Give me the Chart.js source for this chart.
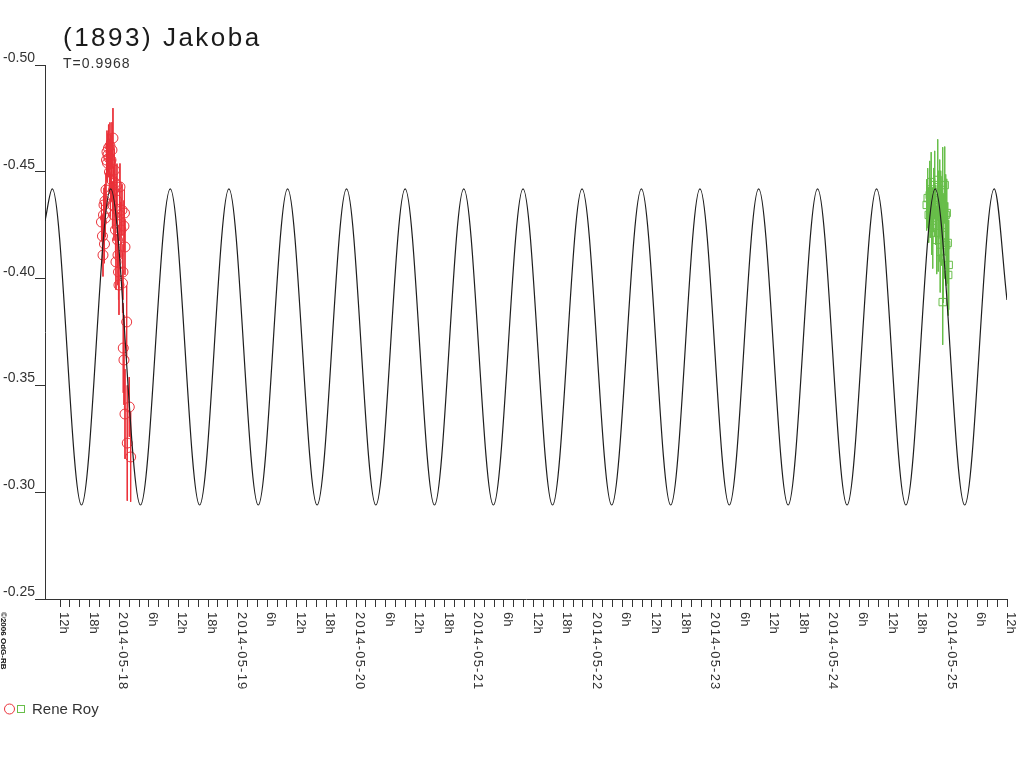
<!DOCTYPE html>
<html>
<head>
<meta charset="utf-8">
<title>(1893) Jakoba</title>
<script src="https://cdn.jsdelivr.net/npm/chart.js@4.4.1/dist/chart.umd.min.js"></script>
<style>
  html, body { margin: 0; padding: 0; background: #fff; }
  #wrap { width: 1024px; height: 768px; }
</style>
</head>
<body>
<div id="wrap"><canvas id="lc" width="1024" height="768"></canvas></div>
<script>
// hours counted from 2014-05-18 00:00
const dayLabels = ['2014-05-17', '2014-05-18', '2014-05-19', '2014-05-20', '2014-05-21',
  '2014-05-22', '2014-05-23', '2014-05-24', '2014-05-25'];
const hourLabels = { 6: '6h', 12: '12h', 18: '18h' };
const yTickValues = [-0.50, -0.45, -0.40, -0.35, -0.30, -0.25];
const yTickLabels = ['-0.50', '-0.45', '-0.40', '-0.35', '-0.30', '-0.25'];

// fitted curve: start, peaks/troughs, end
const curveHours = [-15.06, -13.58, -7.66, -1.74, 4.30, 10.34, 16.29, 22.23, 28.18, 34.13,
  40.11, 46.08, 52.02, 57.96, 63.91, 69.85, 75.86, 81.87, 87.85, 93.83, 99.85, 105.87,
  111.81, 117.74, 123.69, 129.64, 135.62, 141.59, 147.57, 153.55, 159.50, 165.44, 171.42,
  177.40, 180.00];
const curveMags = [-0.427, -0.442, -0.294, -0.442, -0.294, -0.442, -0.294, -0.442, -0.294,
  -0.442, -0.294, -0.442, -0.294, -0.442, -0.294, -0.442, -0.294, -0.442, -0.294, -0.442,
  -0.294, -0.442, -0.294, -0.442, -0.294, -0.442, -0.294, -0.442, -0.294, -0.442, -0.294,
  -0.442, -0.294, -0.442, -0.390];

// session 1 (red circles)
const redHours = [-3.61, -3.41, -3.30, -3.20, -3.10, -3.00, -2.90, -2.80, -2.70, -2.59,
  -2.49, -2.39, -2.29, -2.19, -2.09, -1.99, -1.89, -1.78, -1.68, -1.58, -1.48, -1.38,
  -1.28, -1.18, -1.07, -0.97, -0.87, -0.77, -0.67, -0.57, -0.47, -0.36, -0.26, -0.16,
  -0.06, 0.04, 0.14, 0.34, 0.55, 0.65, 0.75, 0.95, 1.05, 1.16, 1.50, 0.81, 0.95, 2.03,
  1.16, 1.62, 2.31];
const redMags = [-0.4265, -0.4199, -0.4110, -0.4298, -0.4345, -0.4162, -0.4363, -0.4284,
  -0.4415, -0.4555, -0.4593, -0.4541, -0.4579, -0.4611, -0.4565, -0.4499, -0.4621, -0.4391,
  -0.4555, -0.4462, -0.4602, -0.4345, -0.4658, -0.4415, -0.4298, -0.4508, -0.4448, -0.4228,
  -0.4078, -0.4368, -0.4438, -0.4181, -0.4110, -0.4031, -0.3970, -0.4298, -0.4429, -0.4228,
  -0.4321, -0.3979, -0.4031, -0.4246, -0.4307, -0.4148, -0.3797, -0.3675, -0.3619, -0.3399,
  -0.3366, -0.3230, -0.3165];
const redErrs = [0.009, 0.010, 0.010, 0.009, 0.008, 0.009, 0.008, 0.009, 0.008, 0.009,
  0.010, 0.009, 0.010, 0.011, 0.009, 0.010, 0.011, 0.010, 0.012, 0.010, 0.013, 0.011,
  0.014, 0.011, 0.012, 0.010, 0.011, 0.012, 0.013, 0.011, 0.010, 0.013, 0.014, 0.013,
  0.014, 0.012, 0.011, 0.013, 0.012, 0.014, 0.013, 0.012, 0.011, 0.013, 0.017, 0.021,
  0.021, 0.014, 0.021, 0.027, 0.021];

// session 2 (green squares)
const greenHours = [163.72, 163.92, 164.13, 164.33, 164.43, 164.63, 164.74, 164.94, 165.14,
  165.34, 165.55, 165.75, 165.95, 166.05, 166.15, 166.36, 166.46, 166.56, 166.76, 166.96,
  167.07, 167.17, 167.37, 167.57, 167.67, 167.78, 167.98, 168.08, 168.18, 166.96];
const greenMags = [-0.4345, -0.4377, -0.4298, -0.4391, -0.4331, -0.4452, -0.4251, -0.4237,
  -0.4368, -0.4438, -0.4298, -0.4181, -0.4462, -0.4213, -0.4345, -0.4377, -0.4125, -0.4345,
  -0.4251, -0.4415, -0.4096, -0.4204, -0.4438, -0.4298, -0.4157, -0.4307, -0.4167, -0.4017,
  -0.4064, -0.3890];
const greenErrs = [0.012, 0.014, 0.013, 0.016, 0.014, 0.014, 0.014, 0.019, 0.015, 0.016,
  0.014, 0.016, 0.019, 0.018, 0.016, 0.018, 0.019, 0.016, 0.019, 0.020, 0.021, 0.019,
  0.018, 0.019, 0.019, 0.016, 0.019, 0.019, 0.021, 0.020];

const RED = 'rgb(234, 50, 58)';
const GREEN = 'rgb(104, 190, 74)';
const INK = '#333';

const toPoints = (xs, ys) => xs.map((v, i) => ({ x: v, y: ys[i] }));

// each error bar is a short segment; a null point breaks the line between bars
const toBars = (xs, ys, es) => xs.flatMap((v, i) => [
  { x: v, y: ys[i] - es[i] }, { x: v, y: ys[i] + es[i] }, { x: v, y: null }
]);

// title, tick labels, legend, credit
const texts = {
  id: 'texts',
  afterDraw(chart) {
    const { ctx, scales: { x, y } } = chart;
    ctx.save();
    ctx.fillStyle = '#1a1a1a';
    ctx.textBaseline = 'alphabetic';

    ctx.font = '26px "Liberation Sans", Arial, sans-serif';
    ctx.letterSpacing = '2.5px';
    ctx.fillText('(1893) Jakoba', 63, 46);
    ctx.font = '14px "Liberation Sans", Arial, sans-serif';
    ctx.letterSpacing = '1px';
    ctx.fillStyle = INK;
    ctx.fillText('T=0.9968', 63, 68);

    // y labels sit above their tick marks
    ctx.letterSpacing = '0px';
    ctx.textAlign = 'right';
    yTickValues.forEach((v, i) => {
      ctx.fillText(yTickLabels[i], 35, y.getPixelForValue(v) - 3);
    });

    // x labels, rotated clockwise
    ctx.textAlign = 'left';
    x.ticks.forEach(t => {
      const h = Math.round(t.value);
      const hod = ((h % 24) + 24) % 24;
      let label = null;
      if (hod === 0) label = dayLabels[Math.floor(h / 24) + 1];
      else if (hourLabels[hod]) label = hourLabels[hod];
      if (!label) return;
      const px = Math.round(x.getPixelForValue(h));
      ctx.save();
      ctx.translate(px, 612);
      ctx.rotate(Math.PI / 2);
      ctx.font = '13px "Liberation Sans", Arial, sans-serif';
      ctx.letterSpacing = hod === 0 ? '1.2px' : '0px';
      ctx.fillText(label, 0, 0);
      ctx.restore();
    });

    // credit
    ctx.save();
    ctx.translate(1, 612);
    ctx.rotate(Math.PI / 2);
    ctx.font = 'bold 8px "Liberation Sans", Arial, sans-serif';
    ctx.fillStyle = '#111';
    ctx.fillText('\u00a92006 OdG-RB', 0, 0);
    ctx.restore();

    // legend
    ctx.lineWidth = 1;
    ctx.strokeStyle = RED;
    ctx.beginPath();
    ctx.arc(9.5, 709, 5, 0, Math.PI * 2);
    ctx.stroke();
    ctx.strokeStyle = GREEN;
    ctx.strokeRect(17.5, 705.5, 7, 7);
    ctx.font = '15px "Liberation Sans", Arial, sans-serif';
    ctx.fillStyle = INK;
    ctx.fillText('Rene Roy', 32, 714);
    ctx.restore();
  }
};

new Chart(document.getElementById('lc'), {
  type: 'scatter',
  data: {
    datasets: [
      {
        label: 'fit',
        data: toPoints(curveHours, curveMags),
        showLine: true,
        borderColor: '#1e1e1e',
        borderWidth: 1.2,
        pointRadius: 0,
        cubicInterpolationMode: 'monotone',
        fill: false
      },
      {
        label: 'Rene Roy 1',
        data: toPoints(redHours, redMags),
        borderColor: RED,
        backgroundColor: 'rgba(0,0,0,0)',
        pointStyle: 'circle',
        pointRadius: 5,
        pointBorderWidth: 1
      },
      {
        label: 'Rene Roy 2',
        data: toPoints(greenHours, greenMags),
        borderColor: GREEN,
        backgroundColor: 'rgba(0,0,0,0)',
        pointStyle: 'rect',
        pointRadius: 5.2,
        pointBorderWidth: 1
      },
      {
        label: 'err 1',
        data: toBars(redHours, redMags, redErrs),
        showLine: true,
        spanGaps: false,
        borderColor: RED,
        borderWidth: 1,
        pointRadius: 0
      },
      {
        label: 'err 2',
        data: toBars(greenHours, greenMags, greenErrs),
        showLine: true,
        spanGaps: false,
        borderColor: GREEN,
        borderWidth: 1,
        pointRadius: 0
      }
    ]
  },
  options: {
    responsive: false,
    animation: false,
    devicePixelRatio: 1,
    events: [],
    layout: { padding: { left: 35, right: 17, top: 65, bottom: 161 } },
    plugins: { legend: { display: false }, tooltip: { enabled: false } },
    scales: {
      x: {
        type: 'linear',
        min: -15.06,
        max: 180,
        ticks: { stepSize: 2, display: false },
        afterBuildTicks: scale => {
          scale.ticks = scale.ticks.filter(t =>
            Math.abs(t.value - Math.round(t.value)) < 1e-6 && Math.round(t.value) % 2 === 0);
        },
        grid: { drawOnChartArea: false, tickLength: 8, color: INK },
        border: { color: INK }
      },
      y: {
        type: 'linear',
        reverse: true,
        min: -0.50,
        max: -0.25,
        ticks: { stepSize: 0.05, display: false },
        grid: { drawOnChartArea: false, tickLength: 10, color: INK },
        border: { color: INK }
      }
    }
  },
  plugins: [texts]
});
</script>
</body>
</html>
